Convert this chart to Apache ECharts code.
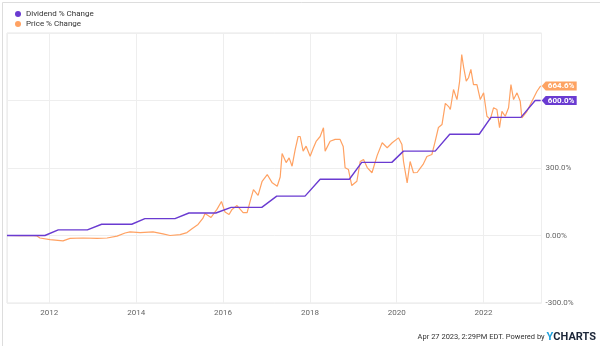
<!DOCTYPE html>
<html><head><meta charset="utf-8">
<script src="https://cdn.jsdelivr.net/npm/echarts@6/dist/echarts.min.js"></script>
<style>html,body{margin:0;padding:0;background:#fff}#c{width:600px;height:346px}</style>
</head><body><div id="c"></div>
<script>
const seriesNames = ['Dividend % Change', 'Price % Change'];
const divDates = ['2011-01-10','2011-11-25','2012-03-16','2012-11-16','2013-03-16','2013-11-24','2014-03-15','2014-11-23','2015-03-20','2015-11-02','2016-03-09','2016-11-22','2017-03-28','2017-11-21','2018-03-28','2018-11-29','2019-03-13','2019-11-21','2020-02-27','2020-11-20','2021-03-22','2021-11-25','2022-03-04','2022-11-11','2023-03-11','2023-04-26'];
const divValues = [0,0,25,25,50,50,75,75,100,100,125,125,175,175,250,250,325,325,375,375,450,450,525,525,600,600];
const priceDates = ['2011-01-10','2011-04-28','2011-07-22','2011-09-19','2011-10-14','2012-01-07','2012-04-25','2012-06-23','2012-10-11','2013-02-06','2013-05-01','2013-07-24','2013-09-29','2013-11-10','2014-02-03','2014-05-22','2014-08-14','2014-10-12','2015-01-05','2015-03-04','2015-04-15','2015-06-05','2015-07-15','2015-08-03','2015-08-28','2015-09-22','2015-10-17','2015-11-11','2015-12-19','2016-01-18','2016-02-21','2016-03-17','2016-04-28','2016-06-18','2016-07-22','2016-08-16','2016-09-13','2016-10-22','2016-11-25','2017-01-07','2017-02-18','2017-04-01','2017-04-26','2017-05-12','2017-06-15','2017-07-10','2017-08-04','2017-08-30','2017-09-24','2017-10-11','2017-11-05','2017-11-30','2018-01-03','2018-01-28','2018-02-22','2018-03-28','2018-04-25','2018-05-09','2018-06-20','2018-08-01','2018-09-12','2018-10-08','2018-10-24','2018-11-21','2018-12-19','2019-01-31','2019-02-28','2019-03-28','2019-04-28','2019-06-07','2019-07-21','2019-09-01','2019-10-13','2019-11-24','2020-01-16','2020-02-14','2020-02-27','2020-03-29','2020-04-23','2020-05-21','2020-06-21','2020-07-16','2020-08-10','2020-09-11','2020-10-23','2020-11-20','2020-12-17','2021-01-16','2021-02-13','2021-03-13','2021-03-27','2021-04-23','2021-05-22','2021-06-13','2021-07-01','2021-07-16','2021-08-08','2021-08-27','2021-09-16','2021-10-08','2021-11-06','2021-12-04','2022-01-01','2022-01-29','2022-02-26','2022-03-26','2022-04-23','2022-05-15','2022-06-04','2022-07-02','2022-07-30','2022-08-19','2022-09-10','2022-10-09','2022-11-05','2022-11-19','2023-01-01','2023-02-12','2023-03-26','2023-04-26'];
const priceValues = [0,-1,0,-2,-11,-18,-24,-13,-11,-13,-11,-3,11,16,13,16,7,0,4,13,30,49,76,98,89,80,98,116,151,104,93,116,133,102,102,152,204,178,241,271,234,219,260,364,324,345,308,382,440,440,375,397,352,387,418,440,479,375,419,427,427,396,301,293,222,241,329,338,302,279,356,412,390,412,434,404,330,234,329,279,280,298,316,351,360,419,480,493,587,573,560,649,604,684,804,751,686,701,738,671,671,604,634,530,516,568,560,479,552,530,568,671,604,634,597,523,552,597,641,664.6];
const xRange = ['2011-01-10','2023-05-03'];
const xTickYears = 2;
const yRange = [-300, 900];
const yInterval = 300;
const footerText = 'Apr 27 2023, 2:29PM EDT. Powered by ';

const divColor = '#6a3bd1', priceColor = '#ffa263';
const ts = s => echarts.time.parse(s).getTime();
function decYear(s) {
  const d = echarts.time.parse(s), y = d.getFullYear();
  const a = new Date(y, 0, 1).getTime(), b = new Date(y + 1, 0, 1).getTime();
  return y + (d.getTime() - a) / (b - a);
}
const zip = (a, b) => a.map((d, i) => [d, b[i]]);
const divData = zip(divDates, divValues);
const priceData = zip(priceDates, priceValues);
const tagPath = 'path://M0,4.5L4,0L35,0L35,9L4,9Z';
function tag(data, color) {
  const last = data[data.length - 1];
  return {
    symbol: tagPath, symbolSize: [35, 9], symbolOffset: [18.5, 0], symbolKeepAspect: false,
    itemStyle: {color: color},
    label: {show: true, position: 'inside', offset: [2, 0], color: '#fff', fontSize: 8, fontWeight: 'bold', fontFamily: 'Roboto',
      formatter: () => last[1].toFixed(1) + '%'},
    data: [{coord: last}], animation: false, silent: true
  };
}
const chart = echarts.init(document.getElementById('c'), null, {renderer: 'canvas'});
chart.setOption({
  animation: false,
  backgroundColor: '#fff',
  textStyle: {fontFamily: 'Roboto'},
  legend: {orient: 'vertical', left: 15, top: 10, padding: 0, itemWidth: 6, itemHeight: 6, itemGap: 2, icon: 'circle',
    textStyle: {fontSize: 8, color: '#333', fontFamily: 'Roboto'}, data: seriesNames},
  grid: {left: 7, right: 58.5, top: 33, bottom: 43, show: true, borderColor: '#e6e6e6', borderWidth: 1, outerBoundsMode: 'none'},
  xAxis: [
    {type: 'time', min: ts(xRange[0]), max: ts(xRange[1]),
      axisLine: {show: false}, axisTick: {show: false}, axisLabel: {show: false}, splitLine: {show: false}},
    {type: 'value', position: 'bottom', min: decYear(xRange[0]), max: decYear(xRange[1]),
      minInterval: xTickYears, maxInterval: xTickYears,
      axisLine: {show: false}, axisTick: {show: false},
      axisLabel: {formatter: v => Number.isInteger(v) ? String(v) : '', fontSize: 8, color: '#666', margin: 6, showMinLabel: false, showMaxLabel: false},
      splitLine: {show: true, lineStyle: {color: '#eeeeee', width: 1}}}
  ],
  yAxis: {type: 'value', position: 'right', min: yRange[0], max: yRange[1], interval: yInterval,
    axisLine: {show: false}, axisTick: {show: false},
    axisLabel: {fontSize: 8, color: '#666', margin: 4,
      formatter: v => v === yRange[1] ? '' : (v === 0 ? '0.00%' : v.toFixed(1) + '%')},
    splitLine: {show: true, lineStyle: {color: '#eeeeee', width: 1}}},
  series: [
    {name: seriesNames[0], type: 'line', xAxisIndex: 0, data: divData, showSymbol: false, color: divColor,
      lineStyle: {width: 1.4, color: divColor}, z: 3, markPoint: tag(divData, '#6a3bd1')},
    {name: seriesNames[1], type: 'line', xAxisIndex: 0, data: priceData, showSymbol: false, color: priceColor,
      lineStyle: {width: 1.2, color: priceColor}, z: 2, markPoint: tag(priceData, '#fda363')}
  ],
  graphic: [
    {type: 'rect', left: 0, top: 0, shape: {x: 0.5, y: 0.5, width: 599, height: 345}, style: {fill: 'none', stroke: '#dddddd', lineWidth: 1}, silent: true},
    {type: 'text', right: 4, top: 332, style: {
      text: '{a|' + footerText + '}{y|Y}{b|CHARTS}',
      rich: {a: {fontSize: 7.5, fontFamily: 'Roboto', fill: '#333'},
             y: {fontSize: 11, fontWeight: 'bold', fontFamily: 'Roboto', fill: '#1ea0dc'},
             b: {fontSize: 11, fontWeight: 'bold', fontFamily: 'Roboto', fill: '#1c2638'}}}}
  ]
});
</script></body></html>
